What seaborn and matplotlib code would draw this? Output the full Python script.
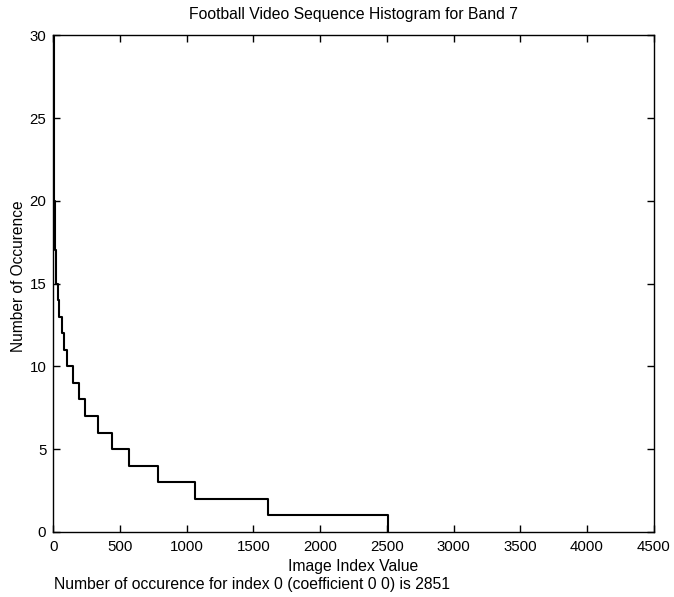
import seaborn as sns
import matplotlib.pyplot as plt
import pandas as pd

# step edges (image index value) and count held from that index on
index_value = [0, 1, 2, 4, 6, 8, 10, 13, 16, 19, 22, 38, 45, 65, 77, 102,
               147, 190, 240, 339, 444, 571, 788, 1065, 1607, 2505]
occurence = [2851, 45, 30, 25, 22, 20, 19, 18, 17, 16, 15, 14, 13, 12, 11, 10,
             9, 8, 7, 6, 5, 4, 3, 2, 1, 0]
x_ticks = [0, 500, 1000, 1500, 2000, 2500, 3000, 3500, 4000, 4500]
y_ticks = [0, 5, 10, 15, 20, 25, 30]

df = pd.DataFrame({'index': index_value, 'count': occurence})

sns.set_style('ticks')
plt.rcParams['font.family'] = ['Liberation Sans', 'DejaVu Sans']
plt.rcParams['text.color'] = 'black'
plt.rcParams['axes.labelcolor'] = 'black'

fig = plt.figure(figsize=(6.74, 5.97), dpi=100)
ax = fig.add_axes([0.079, 0.109, 0.891, 0.832])

sns.lineplot(x='index', y='count', data=df, ax=ax, color='black',
             linewidth=1.5, drawstyle='steps-post', estimator=None)

ax.set_xlim(0, 4500)
ax.set_ylim(0, 30)
ax.set_xticks(x_ticks)
ax.set_yticks(y_ticks)
ax.tick_params(direction='in', length=5, width=1, top=True, right=True,
               labelsize=10.8, colors='black')
ax.tick_params(axis='x', pad=6)
ax.tick_params(axis='y', pad=5)
for s in ax.spines.values():
    s.set_visible(True)
    s.set_color('black')
    s.set_linewidth(1)

ax.set_title('Football Video Sequence Histogram for Band 7', fontsize=11.3, pad=12)
ax.set_xlabel('Image Index Value', fontsize=11.3)
ax.xaxis.set_label_coords(0.5, -0.054)
ax.set_ylabel('Number of Occurence', fontsize=11.2)
ax.yaxis.set_label_coords(-0.045, 0.515)
fig.text(0.08, 0.021, 'Number of occurence for index 0 (coefficient 0 0) is 2851',
         fontsize=11.3, ha='left', va='center')

fig.savefig('out.png', dpi=100)
